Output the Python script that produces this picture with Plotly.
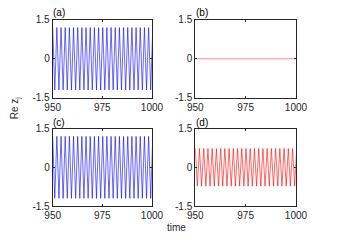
import plotly.graph_objects as go

W, H = 339, 242

# Extrema of the oscillations (time, value)
ext_time = [950.00, 951.05, 952.10, 953.15, 954.20, 955.25, 956.30, 957.35, 958.40, 959.45,
            960.50, 961.55, 962.60, 963.65, 964.70, 965.75, 966.80, 967.85, 968.90, 969.95,
            971.00, 972.05, 973.10, 974.15, 975.20, 976.25, 977.30, 978.35, 979.40, 980.45,
            981.50, 982.55, 983.60, 984.65, 985.70, 986.75, 987.80, 988.85, 989.90, 990.95,
            992.00, 993.05, 994.10, 995.15, 996.20, 997.25, 998.30, 999.35, 1000.40]
blue_a = [1.2, -1.2] * 24 + [1.2]
red_b_time = [950, 1000]
red_b = [0.0, 0.0]
blue_c = [1.2, -1.2] * 24 + [1.2]
red_d = [0.73, -0.73] * 24 + [0.73]

x_ticks = [950, 975, 1000]
y_ticks = [-1.5, 0, 1.5]
y_ticklabels = ["-1.5", "0", "1.5"]
panel_labels = ["(a)", "(b)", "(c)", "(d)"]

FONT = "Liberation Sans, Arial, sans-serif"
AX = "#262626"

def px(x):
    return x / W

def py(y):
    return 1 - y / H

cols = [(px(47.5), px(153)), (px(199), px(306))]
rows = [(py(96.5), py(14.5)), (py(210.5), py(129))]
label_y = [py(7), py(122.5)]

fig = go.Figure()

panels = [
    (ext_time, blue_a, "#0000ff", 0, 0),
    (red_b_time, red_b, "#ff4040", 0, 1),
    (ext_time, blue_c, "#0000ff", 1, 0),
    (ext_time, red_d, "#ff0000", 1, 1),
]

layout = dict(
    width=W, height=H,
    margin=dict(l=0, r=0, t=0, b=0),
    paper_bgcolor="white", plot_bgcolor="white",
    showlegend=False,
    font=dict(family=FONT, size=10, color=AX),
)

annotations = []
for i, (t, v, c, r, cidx) in enumerate(panels):
    n = i + 1
    xa = "x" if n == 1 else f"x{n}"
    ya = "y" if n == 1 else f"y{n}"
    fig.add_trace(go.Scatter(x=t, y=v, mode="lines",
                             line=dict(color=c, width=0.6),
                             xaxis=xa, yaxis=ya, hoverinfo="skip"))
    xkey = "xaxis" if n == 1 else f"xaxis{n}"
    ykey = "yaxis" if n == 1 else f"yaxis{n}"
    layout[xkey] = dict(domain=list(cols[cidx]), anchor=ya, range=[950, 1000],
                        tickvals=x_ticks, ticks="inside", ticklen=2, tickcolor=AX,
                        showline=True, linecolor=AX, linewidth=1, mirror="ticks",
                        showgrid=False, zeroline=False,
                        tickfont=dict(family=FONT, size=10, color=AX))
    layout[ykey] = dict(domain=list(rows[r]), anchor=xa, range=[-1.5, 1.5],
                        tickvals=y_ticks, ticktext=y_ticklabels,
                        ticks="inside", ticklen=2, tickcolor=AX,
                        showline=True, linecolor=AX, linewidth=1, mirror="ticks",
                        showgrid=False, zeroline=False,
                        tickfont=dict(family=FONT, size=10, color=AX))
    annotations.append(dict(text=panel_labels[i], xref="paper", yref="paper",
                            x=cols[cidx][0] - px(1.5), y=label_y[r],
                            xanchor="left", yanchor="middle",
                            showarrow=False, font=dict(family=FONT, size=10, color="black")))

annotations.append(dict(text="Re z<sub>j</sub>", xref="paper", yref="paper",
                        x=px(8), y=py(107), xanchor="center", yanchor="middle",
                        textangle=-90, showarrow=False,
                        font=dict(family=FONT, size=10, color=AX)))
annotations.append(dict(text="time", xref="paper", yref="paper",
                        x=px(179), y=py(233), xanchor="center", yanchor="middle",
                        showarrow=False,
                        font=dict(family=FONT, size=10, color=AX)))
layout["annotations"] = annotations

fig.update_layout(**layout)
fig.write_html("out.html",
               config={"displayModeBar": False},
               post_script="document.body.style.margin='0';document.body.style.padding='0';"
                           "document.body.style.overflow='hidden';")
